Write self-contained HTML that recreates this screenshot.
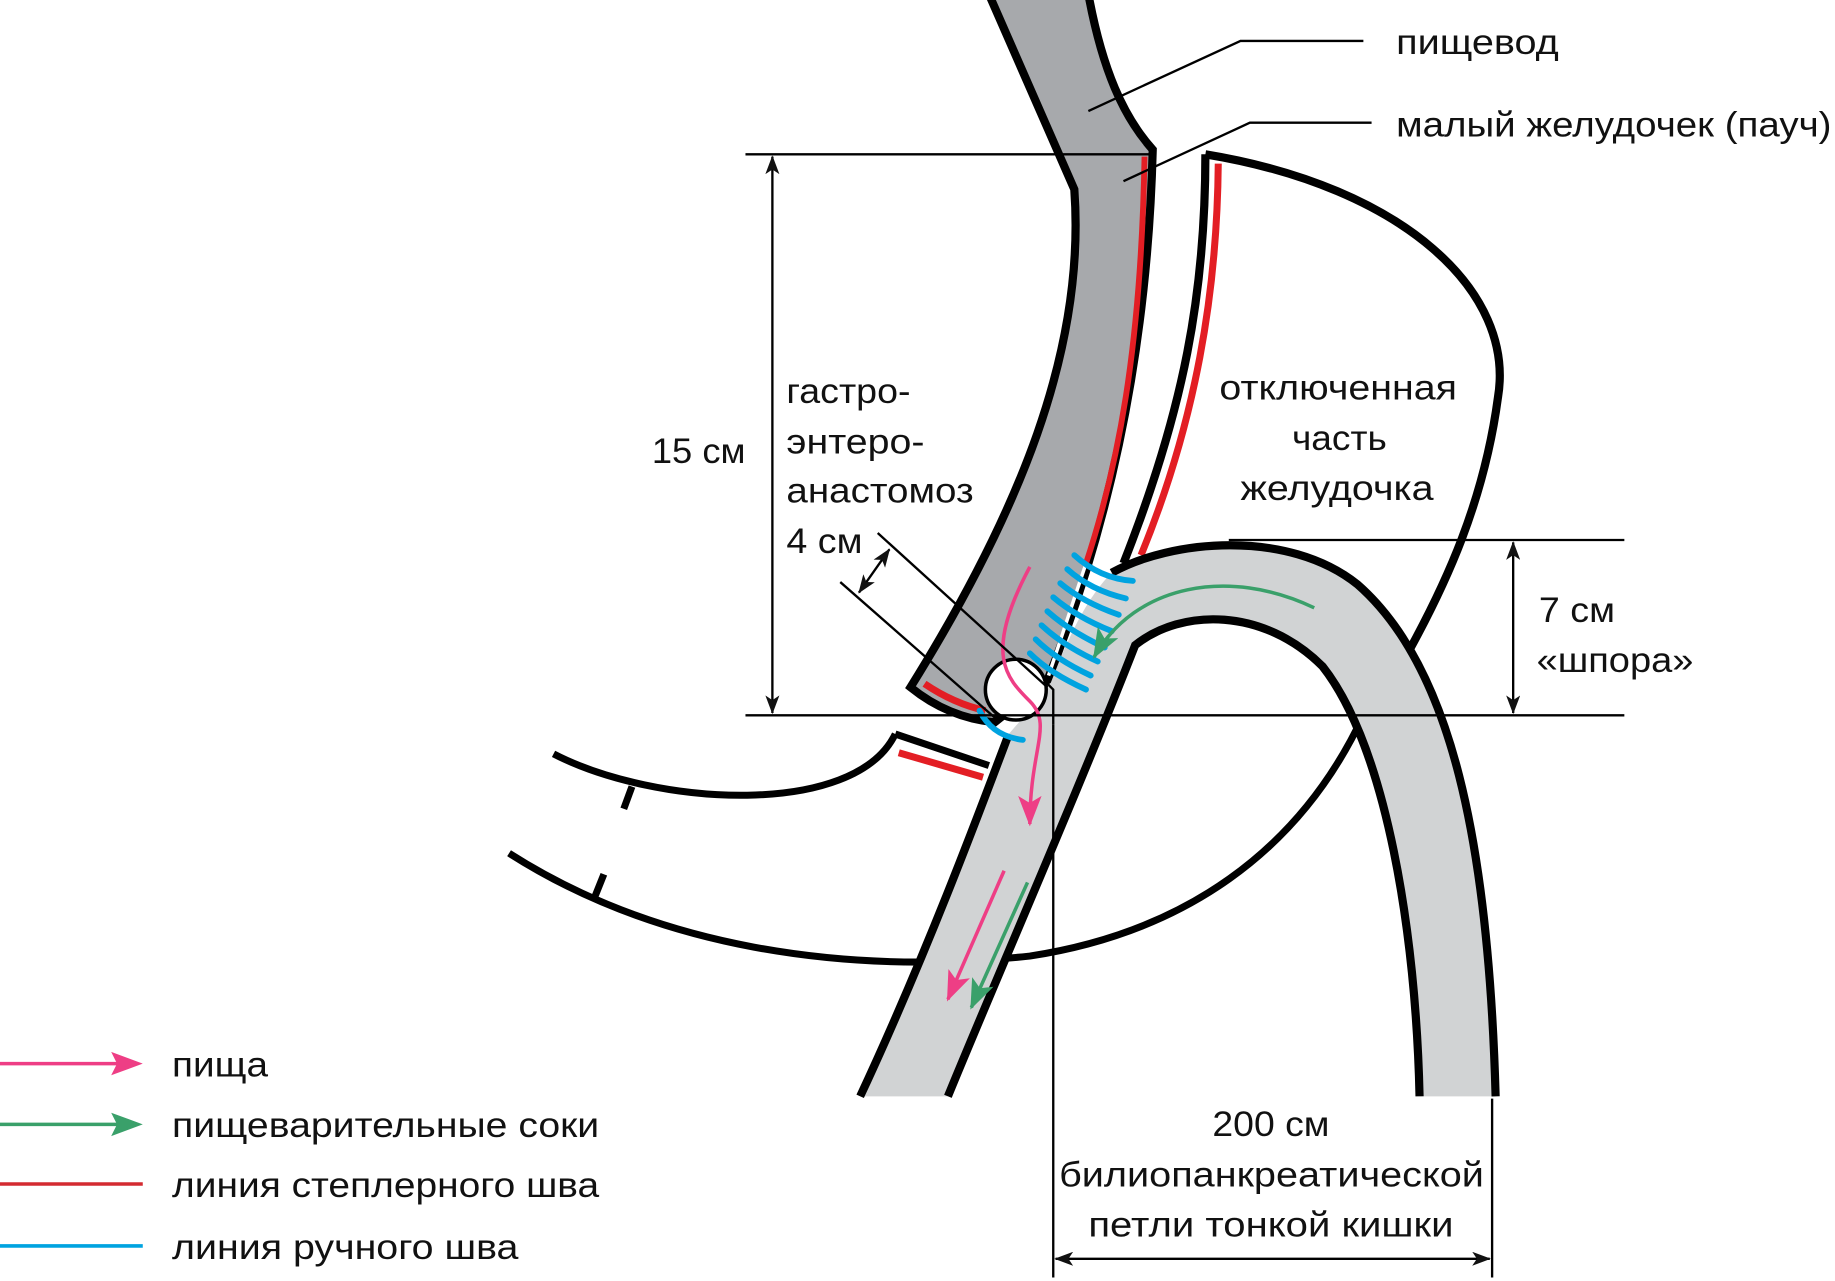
<!DOCTYPE html>
<html><head><meta charset="utf-8"><style>
html,body{margin:0;padding:0;background:#fff;}
svg{display:block;}
text{font-family:"Liberation Sans","DejaVu Sans",sans-serif;font-size:30px;fill:#111;}
</style></head><body>
<svg width="1835" height="1281" viewBox="0 0 1568 1096" preserveAspectRatio="none" xmlns="http://www.w3.org/2000/svg">
<defs>
<marker id="apl" markerWidth="26" markerHeight="20" refX="24" refY="10" orient="auto" markerUnits="userSpaceOnUse"><path d="M0,0 L26,10 L0,20 L6,10z" fill="#ee3e85"/></marker>
<marker id="agl" markerWidth="26" markerHeight="20" refX="24" refY="10" orient="auto" markerUnits="userSpaceOnUse"><path d="M0,0 L26,10 L0,20 L6,10z" fill="#3aa06a"/></marker>
<marker id="ak" markerWidth="16" markerHeight="12" refX="15" refY="6" orient="auto" markerUnits="userSpaceOnUse"><path d="M0,0 L16,6 L0,12 L4,6z" fill="#111"/></marker>
<marker id="aks" markerWidth="16" markerHeight="12" refX="1" refY="6" orient="auto" markerUnits="userSpaceOnUse"><path d="M16,0 L0,6 L16,12 L12,6z" fill="#111"/></marker>
</defs>

<path d="M473,645 C560,690 730,700 765,628" fill="none" stroke="#000" stroke-width="6"/>
<path d="M765,628 L845,655" fill="none" stroke="#000" stroke-width="6"/>
<path d="M768,644 L840,665" fill="none" stroke="#e31e24" stroke-width="6"/>
<path d="M435,730 C560,810 720,835 880,818 C1010,798 1110,730 1165,612" fill="none" stroke="#000" stroke-width="6"/>
<line x1="540" y1="673" x2="533" y2="692" stroke="#000" stroke-width="6"/>
<line x1="516" y1="748" x2="508" y2="768" stroke="#000" stroke-width="6"/>

<path d="M1030,132 C1200,160 1295,250 1280,340 C1268,430 1235,500 1205,555" fill="none" stroke="#000" stroke-width="7"/>
<path d="M1030,132 C1030,250 1012,350 960,482" fill="none" stroke="#000" stroke-width="7"/>
<path d="M1041,140 C1040,250 1022,360 975,475" fill="none" stroke="#e31e24" stroke-width="6"/>

<path d="M735,938 C790,820 835,700 862,628 L895,590 C915,540 930,510 950,490 C1000,462 1100,452 1160,500 C1240,570 1272,720 1278,938 L1213,938 C1210,800 1185,640 1130,570 C1080,520 1010,520 970,552 C920,680 850,840 810,938 Z" fill="#d1d3d4"/>
<path d="M735,938 C790,820 835,700 862,628" fill="none" stroke="#000" stroke-width="7"/>
<path d="M950,490 C1000,462 1100,452 1160,500 C1240,570 1272,720 1278,938" fill="none" stroke="#000" stroke-width="7"/>
<path d="M810,938 C850,840 920,680 970,552 C1010,520 1080,520 1130,570 C1185,640 1210,800 1213,938" fill="none" stroke="#000" stroke-width="7"/>
<path d="M895,585 L900,590 L900,620" fill="none" stroke="#000" stroke-width="2"/>

<path d="M845,-5 L918,162 C928,300 870,440 778,588 Q810,614 850,618 L895,582 C940,470 980,320 985,128 C960,100 942,60 930,-5 Z" fill="#a7a9ac"/>
<path d="M845,-5 L918,162 C928,300 870,440 778,588 Q810,614 850,618 L895,582 C940,470 980,320 985,128 C960,100 942,60 930,-5" fill="none" stroke="#000" stroke-width="7"/>
<path d="M978,134 C975,300 955,400 928,482" fill="none" stroke="#e31e24" stroke-width="5"/>
<path d="M790,585 Q815,602 842,608" fill="none" stroke="#e31e24" stroke-width="6"/>
<path d="M928,482 L896,578" stroke="#fff" stroke-width="3"/>

<g fill="none" stroke="#00a3e0" stroke-width="5" stroke-linecap="round">
<path d="M918,475 Q940,495 968,497"/>
<path d="M912,487 Q932,505 962,512"/>
<path d="M906,499 Q925,515 956,526"/>
<path d="M900,511 Q920,528 950,540"/>
<path d="M895,523 Q914,540 944,554"/>
<path d="M890,535 Q908,552 938,566"/>
<path d="M885,547 Q902,564 932,578"/>
<path d="M880,559 Q897,576 928,590"/>
<path d="M837,608 Q848,630 874,633"/>
</g>

<circle cx="868" cy="590" r="26" fill="#fff" stroke="#000" stroke-width="3"/>

<path d="M880,485 C840,560 860,580 880,600 C900,620 880,640 880,705" fill="none" stroke="#ee3e85" stroke-width="3" marker-end="url(#apl)"/>
<path d="M1123,520 C1050,485 970,500 935,562" fill="none" stroke="#3aa06a" stroke-width="3" marker-end="url(#agl)"/>
<line x1="858" y1="745" x2="810" y2="855" stroke="#ee3e85" stroke-width="3" marker-end="url(#apl)"/>
<line x1="878" y1="755" x2="830" y2="862" stroke="#3aa06a" stroke-width="3" marker-end="url(#agl)"/>

<g stroke="#000" stroke-width="2" fill="none">
<line x1="637" y1="132" x2="985" y2="132"/>
<line x1="637" y1="612" x2="1388" y2="612"/>
<line x1="660" y1="134" x2="660" y2="610" marker-start="url(#aks)" marker-end="url(#ak)"/>
<line x1="1050" y1="462" x2="1388" y2="462"/>
<line x1="1293" y1="464" x2="1293" y2="610" marker-start="url(#aks)" marker-end="url(#ak)"/>
<line x1="900" y1="620" x2="900" y2="1093"/>
<line x1="1275" y1="940" x2="1275" y2="1093"/>
<line x1="902" y1="1077" x2="1273" y2="1077" marker-start="url(#aks)" marker-end="url(#ak)"/>
<line x1="750" y1="456" x2="895" y2="588"/>
<line x1="718" y1="498" x2="850" y2="614"/>
<line x1="760" y1="470" x2="734" y2="507" marker-start="url(#aks)" marker-end="url(#ak)"/>
<polyline points="930,95 1060,35 1165,35"/>
<polyline points="960,155 1068,105 1172,105"/>
</g>

<text x="1193" y="46" textLength="139" lengthAdjust="spacingAndGlyphs">пищевод</text>
<text x="1193" y="117" textLength="372" lengthAdjust="spacingAndGlyphs">малый желудочек (пауч)</text>
<text x="1042" y="342" textLength="203" lengthAdjust="spacingAndGlyphs">отключенная</text>
<text x="1104" y="385" textLength="81" lengthAdjust="spacingAndGlyphs">часть</text>
<text x="1060" y="428" textLength="165" lengthAdjust="spacingAndGlyphs">желудочка</text>
<text x="672" y="345" textLength="106" lengthAdjust="spacingAndGlyphs">гастро-</text>
<text x="672" y="388" textLength="118" lengthAdjust="spacingAndGlyphs">энтеро-</text>
<text x="672" y="430" textLength="160" lengthAdjust="spacingAndGlyphs">анастомоз</text>
<text x="672" y="473" textLength="65" lengthAdjust="spacingAndGlyphs">4 см</text>
<text x="557" y="396" textLength="80" lengthAdjust="spacingAndGlyphs">15 см</text>
<text x="1315" y="532" textLength="65" lengthAdjust="spacingAndGlyphs">7 см</text>
<text x="1313" y="575" textLength="134" lengthAdjust="spacingAndGlyphs">«шпора»</text>
<text x="1036" y="972" textLength="100" lengthAdjust="spacingAndGlyphs">200 см</text>
<text x="905" y="1015" textLength="363" lengthAdjust="spacingAndGlyphs">билиопанкреатической</text>
<text x="930" y="1058" textLength="312" lengthAdjust="spacingAndGlyphs">петли тонкой кишки</text>

<line x1="0" y1="910" x2="112" y2="910" stroke="#ee3e85" stroke-width="3"/>
<path d="M95,900 L122,910 L95,920 L100,910z" fill="#ee3e85"/>
<line x1="0" y1="962" x2="112" y2="962" stroke="#3aa06a" stroke-width="3"/>
<path d="M95,952 L122,962 L95,972 L100,962z" fill="#3aa06a"/>
<line x1="0" y1="1013" x2="122" y2="1013" stroke="#d42a30" stroke-width="3"/>
<line x1="0" y1="1066" x2="122" y2="1066" stroke="#00a3e0" stroke-width="3"/>
<text x="147" y="921" textLength="82" lengthAdjust="spacingAndGlyphs">пища</text>
<text x="147" y="973" textLength="365" lengthAdjust="spacingAndGlyphs">пищеварительные соки</text>
<text x="147" y="1024" textLength="365" lengthAdjust="spacingAndGlyphs">линия степлерного шва</text>
<text x="147" y="1077" textLength="296" lengthAdjust="spacingAndGlyphs">линия ручного шва</text>
</svg>
</body></html>
